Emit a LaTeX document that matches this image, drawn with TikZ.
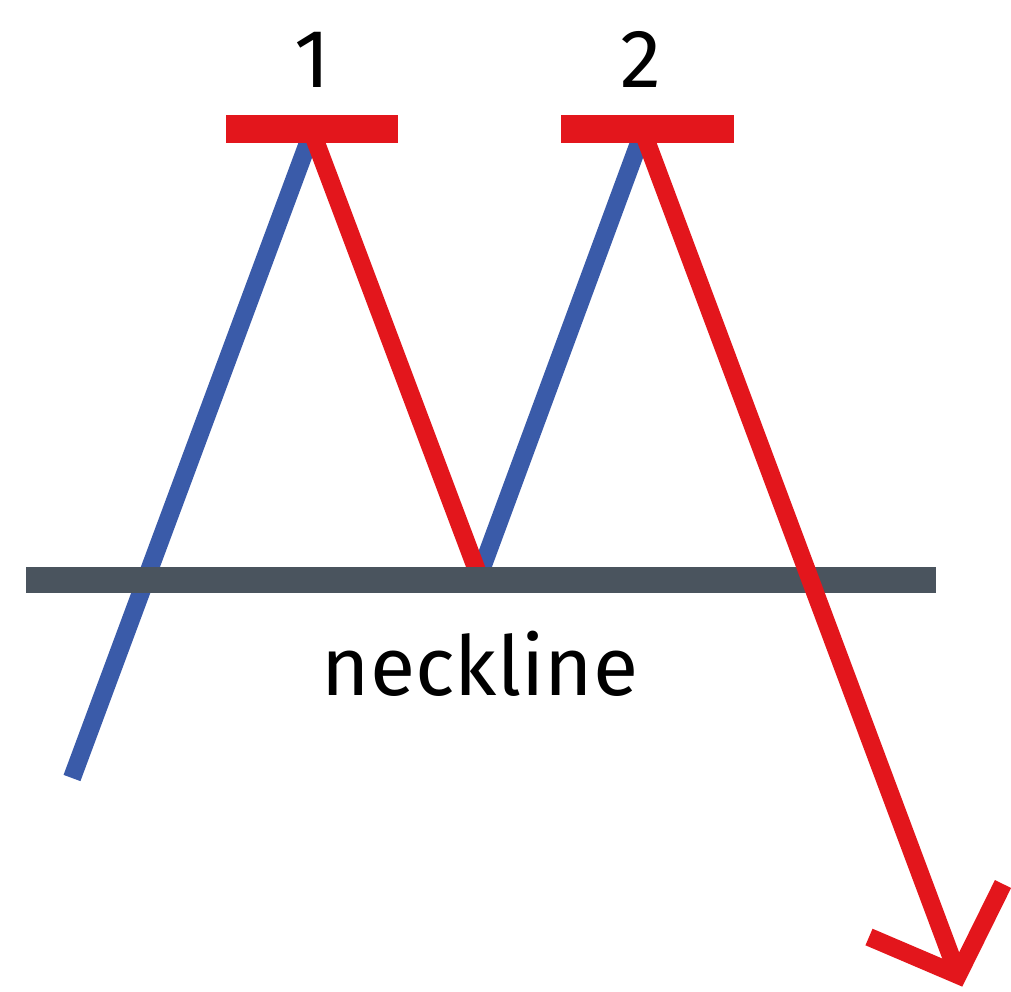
\documentclass[tikz,border=0pt]{standalone}
\usepackage{fontspec}
\setmainfont{Fira Sans}
\usetikzlibrary{calc, positioning}

\definecolor{toprise}{RGB}{58,91,169}
\definecolor{topfall}{RGB}{227,22,28}
\definecolor{necklinegray}{RGB}{74,84,94}

\begin{document}
\begin{tikzpicture}[x=0.02cm, y=-0.02cm, line join=miter]
\def\legwidth{0.36cm}
\def\barwidth{0.56cm}
\def\neckwidth{0.52cm}
\def\barhalf{86}
\def\necky{580}
\useasboundingbox (0,0) rectangle (1011,991);

% Turning points of the price path
\coordinate (start) at (72,778);
\coordinate (peakone) at (312,132);
\coordinate (trough) at (479,576);
\coordinate (peaktwo) at (643,132);
\coordinate (tip) at (958,975);

% Rising legs
\draw[toprise, line width=\legwidth] (start) -- (peakone);
\draw[toprise, line width=\legwidth] (trough) -- (peaktwo);

% First drop back to the neckline
\draw[topfall, line width=\legwidth] (peakone) -- (trough);

% Neckline
\coordinate (neckleft) at (26,\necky);
\coordinate (neckright) at (936,\necky);
\draw[necklinegray, line width=\neckwidth] (neckleft) -- (neckright);

% Breakdown after the second top, with its open arrow head
\coordinate (headleft) at (869,937);
\coordinate (headright) at (1003,884);
\draw[topfall, line width=\legwidth] (peaktwo) -- (tip);
\draw[topfall, line width=\legwidth] (headleft) -- (tip) -- (headright);

% Resistance marks on the two tops
\draw[topfall, line width=\barwidth] ($(peakone)+(-\barhalf,-3)$) -- ($(peakone)+(\barhalf,-3)$);
\draw[topfall, line width=\barwidth] ($(peaktwo)+(-\barhalf+4,-3)$) -- ($(peaktwo)+(\barhalf+5,-3)$);

% Labels
\node[anchor=base, inner sep=0pt, font=\fontsize{47}{50}\selectfont] (labelone) at (312,87) {1};
\node[anchor=base, inner sep=0pt, font=\fontsize{47}{50}\selectfont] (labeltwo) at (641,87) {2};
\node[anchor=base, inner sep=0pt, font=\fontsize{47}{50}\selectfont] (necklabel) at (480,695) {neckline};
\end{tikzpicture}
\end{document}
